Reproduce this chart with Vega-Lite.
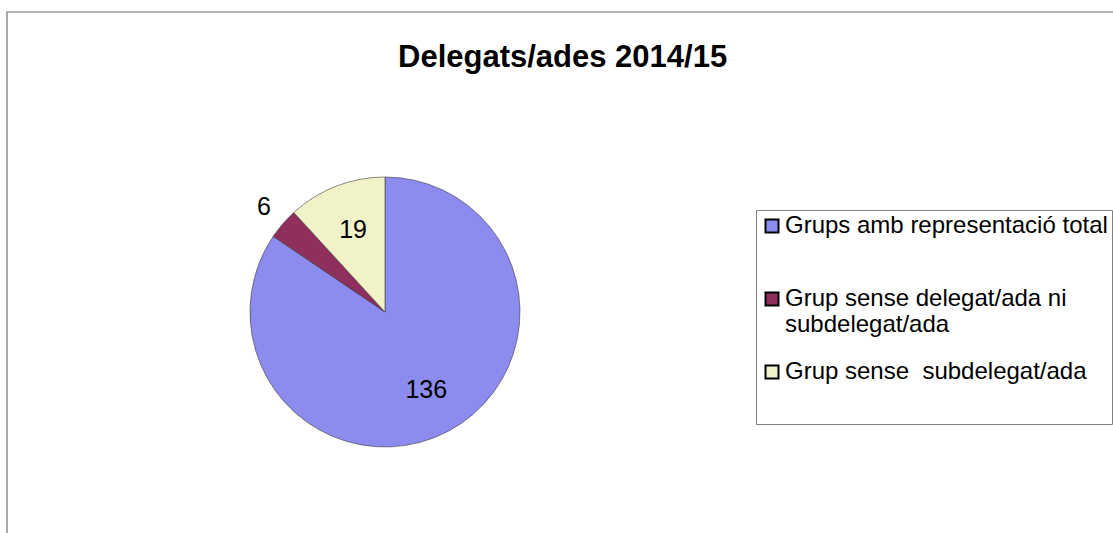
{
  "$schema": "https://vega.github.io/schema/vega-lite/v6.json",
  "width": 1120,
  "height": 540,
  "autosize": {"type": "none"},
  "padding": {"left": 7, "top": 12, "right": 0, "bottom": 0},
  "background": "white",
  "config": {
    "view": {"stroke": null},
    "font": "Liberation Sans"
  },
  "title": {
    "text": "Delegats/ades 2014/15",
    "fontSize": 31,
    "fontWeight": "bold",
    "font": "Liberation Sans",
    "color": "black",
    "anchor": "start",
    "frame": "group",
    "dx": 391,
    "dy": 67
  },
  "data": {
    "values": [
      {"grup": "Grups amb representació total", "valor": 136, "n": 1},
      {"grup": "Grup sense delegat/ada ni subdelegat/ada", "valor": 6, "n": 2},
      {"grup": "Grup sense  subdelegat/ada", "valor": 19, "n": 3}
    ]
  },
  "layer": [
    {
      "data": {"values": [{"marc": 1}]},
      "mark": {"type": "rect", "fill": null, "stroke": "#6e6e6e", "strokeWidth": 1.2},
      "encoding": {}
    },
    {
      "mark": {"type": "arc", "outerRadius": 135, "x": 378, "y": 300, "stroke": "#3a3a3a", "strokeWidth": 0.6},
      "encoding": {
        "theta": {"field": "valor", "type": "quantitative", "stack": true},
        "order": {"field": "n", "type": "quantitative"},
        "color": {
          "field": "grup",
          "type": "nominal",
          "sort": ["Grups amb representació total", "Grup sense delegat/ada ni subdelegat/ada", "Grup sense  subdelegat/ada"],
          "scale": {
            "domain": ["Grups amb representació total", "Grup sense delegat/ada ni subdelegat/ada", "Grup sense  subdelegat/ada"],
            "range": ["#8c8cee", "#8f2f5e", "#f2f2c8"]
          },
          "legend": {
            "orient": "none",
            "legendX": 749,
            "legendY": 198,
            "title": " ",
            "titleOrient": "bottom",
            "titleFontSize": 20,
            "titlePadding": 16,
            "labelFontSize": 24,
            "labelFont": "Liberation Sans",
            "labelColor": "black",
            "labelLimit": 700,
            "labelOffset": 1,
            "labelExpr": "datum.label == 'Grup sense delegat/ada ni subdelegat/ada' ? ['Grup sense delegat/ada ni', 'subdelegat/ada'] : (datum.label == 'Grups amb representació total' ? ['Grups amb representació total', ''] : replace(datum.label, 'sense  ', 'sense\u00a0 '))",
            "symbolType": "square",
            "symbolSize": 169,
            "symbolStrokeColor": "black",
            "symbolStrokeWidth": 2,
            "rowPadding": 23,
            "padding": 4,
            "strokeColor": "#808080",
            "fillColor": "white"
          }
        }
      }
    },
    {
      "mark": {
        "type": "text",
        "x": 378,
        "y": 300,
        "radius": {"expr": "datum.valor < 10 ? 160 : 88"},
        "fontSize": 25,
        "font": "Liberation Sans",
        "color": "black"
      },
      "encoding": {
        "theta": {"field": "valor", "type": "quantitative", "stack": true},
        "order": {"field": "n", "type": "quantitative"},
        "text": {"field": "valor", "type": "quantitative"}
      }
    }
  ]
}
